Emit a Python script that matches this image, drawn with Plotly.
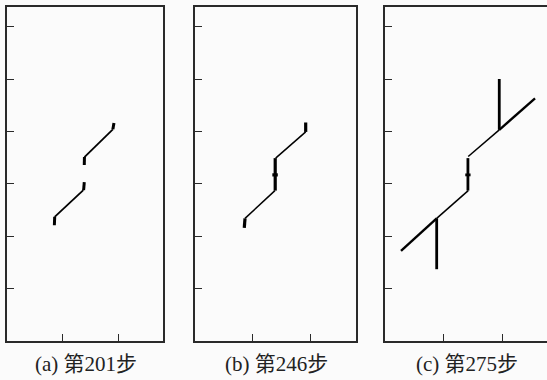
import plotly.graph_objects as go

# ---- data (crack paths, in model units) ----
captions = ["(a) 第201步", "(b) 第246步", "(c) 第275步"]
x_ticks = [10, 20]
y_ticks = [10, 20, 30, 40, 50, 60]

# panel (a)
a_thin_x = [8.56, 13.7, None, 13.9, 19.0]
a_thin_y = [23.7, 28.8, None, 35.1, 40.4]
a_thick_x = [8.5, 8.56, None, 13.75, 13.87, None, 13.87, 13.9, None, 19.0, 19.2]
a_thick_y = [22.1, 23.7, None, 28.8, 30.3, None, 33.6, 35.1, None, 40.4, 41.6]

# panel (b)
b_thin_x = [8.7, 13.9, None, 14.03, 19.25]
b_thin_y = [23.4, 28.7, None, 34.9, 39.9]
b_thick_x = [8.57, 8.7, None, 13.95, 13.95, None, 19.25, 19.25, None, 13.45, 14.4]
b_thick_y = [21.6, 23.4, None, 28.7, 34.9, None, 39.9, 41.7, None, 31.7, 31.7]

# panel (c)
c_outer_x = [2.73, 8.82, None, 19.5, 25.6]
c_outer_y = [17.2, 23.4, None, 40.3, 46.3]
c_thin_x = [8.82, 14.2, None, 14.2, 19.5]
c_thin_y = [23.4, 28.7, None, 35.2, 40.3]
c_thick_x = [8.82, 8.82, None, 14.15, 14.15, None, 19.5, 19.5, None, 13.7, 14.6]
c_thick_y = [23.4, 13.7, None, 28.7, 34.9, None, 40.3, 50.0, None, 31.7, 31.7]

fig = go.Figure()

def add(x, y, w, ax):
    fig.add_trace(go.Scatter(x=x, y=y, mode="lines", xaxis="x" + ax, yaxis="y" + ax,
                             line=dict(color="black", width=w), showlegend=False,
                             hoverinfo="skip", connectgaps=False))

add(a_thin_x, a_thin_y, 1.8, "")
add(a_thick_x, a_thick_y, 3, "")
add(b_thin_x, b_thin_y, 1.5, "2")
add(b_thick_x, b_thick_y, 3.2, "2")
add(c_outer_x, c_outer_y, 2.4, "3")
add(c_thin_x, c_thin_y, 1.5, "3")
add(c_thick_x, c_thick_y, 2.8, "3")

W, H = 547, 380
frame = "#2a2a2a"
ydom = [(380 - 341) / H, (380 - 7) / H]
xdoms = [[7 / W, 163 / W], [195 / W, 356 / W], [385 / W, 1.0]]
xranges = [[0, 28], [0, 28], [0, (547 - 385) / 5.86]]

layout = dict(width=W, height=H, margin=dict(l=0, r=0, t=0, b=0),
              paper_bgcolor="#fbfbfb", plot_bgcolor="#fbfbfb", showlegend=False)
for i in range(3):
    sfx = "" if i == 0 else str(i + 1)
    layout["xaxis" + sfx] = dict(domain=xdoms[i], range=xranges[i], anchor="y" + sfx,
                                 showgrid=False, zeroline=False, showline=True,
                                 mirror=True, linecolor=frame, linewidth=1.5,
                                 tickmode="array", tickvals=x_ticks, ticks="inside",
                                 ticklen=7, tickwidth=1, tickcolor=frame,
                                 showticklabels=False)
    layout["yaxis" + sfx] = dict(domain=ydom, range=[0, 63.74], anchor="x" + sfx,
                                 showgrid=False, zeroline=False, showline=True,
                                 mirror=(i < 2), linecolor=frame, linewidth=1.5,
                                 tickmode="array", tickvals=y_ticks, ticks="inside",
                                 ticklen=7, tickwidth=1, tickcolor=frame,
                                 showticklabels=False)
fig.update_layout(**layout)

cap_x = [86 / W, 277 / W, 467 / W]
for cx, txt in zip(cap_x, captions):
    fig.add_annotation(x=cx, y=(380 - 364) / H, xref="paper", yref="paper",
                       text=txt, showarrow=False, xanchor="center", yanchor="middle",
                       font=dict(family="Liberation Serif, Noto Sans CJK SC", size=21,
                                 color="#222"))

fig.write_html("out.html")
